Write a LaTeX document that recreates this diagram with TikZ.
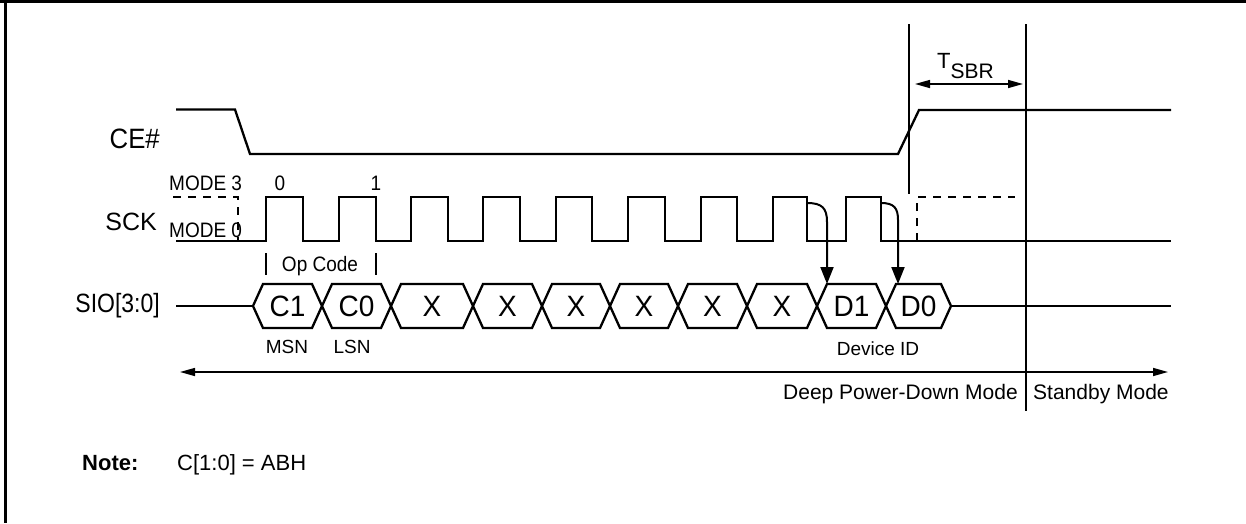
\documentclass[tikz,border=0pt]{standalone}
\usepackage{fontspec}
\setmainfont{Liberation Sans}
\usetikzlibrary{arrows.meta}
\newcommand{\tallish}[1]{\scalebox{1}[1.1]{#1}}
\begin{document}
\begin{tikzpicture}[x=1pt,y=-1pt,
  sig/.style={line width=2.3pt, line join=miter},
  dashsig/.style={line width=2.1pt, dash pattern=on 8pt off 7pt},
  thinline/.style={line width=1.8pt},
  lbl/.style={inner sep=0pt, font=\fontsize{19}{19}\selectfont},
  midlbl/.style={inner sep=0pt, font=\fontsize{21}{21}\selectfont},
  big/.style={inner sep=0pt, font=\fontsize{25}{25}\selectfont},
  hexlbl/.style={inner sep=0pt, font=\fontsize{28}{28}\selectfont},
  dimarrow/.style={line width=1.5pt, {Triangle[length=15pt,width=8pt]}-{Triangle[length=15pt,width=8pt]}},
  samparrow/.style={line width=2pt, -{Triangle[length=17pt,width=13pt]}}
]
\useasboundingbox (0,0) rectangle (1246,523);
% frame (top and left only)
\draw[line width=3pt] (0,1.5) -- (1246,1.5);
\draw[line width=2.6pt] (5.5,0) -- (5.5,523);

% CE#
\draw[sig] (176,109.5) -- (235,109.5) -- (250,154) -- (898,154) -- (919,110) -- (1171,110);
\node[big, anchor=base east] (ce) at (160,148) {\scalebox{1.03}[1.12]{CE\#}};

% SCK
\draw[sig] (176,241) -- (266,241) -- (266,197) -- (303,197) -- (303,241)
  -- (339,241) -- (339,197) -- (376,197) -- (376,241)
  -- (411,241) -- (411,197) -- (448,197) -- (448,241)
  -- (483,241) -- (483,197) -- (520,197) -- (520,241)
  -- (556,241) -- (556,197) -- (592,197) -- (592,241)
  -- (628,241) -- (628,197) -- (665,197) -- (665,241)
  -- (701,241) -- (701,197) -- (737,197) -- (737,241)
  -- (773,241) -- (773,197) -- (807,197) -- (807,241)
  -- (846,241) -- (846,197) -- (881,197) -- (881,241) -- (1171,241);
\draw[dashsig] (173,197) -- (238,197) -- (238,241);
\draw[dashsig] (917,241) -- (917,197) -- (1015,197);
\node[big, anchor=base east] (sck) at (157,230) {SCK};
\node[lbl, anchor=base west] (m3) at (169,190) {\tallish{MODE 3}};
\node[lbl, anchor=base west] (m0) at (169,237) {\tallish{MODE 0}};
\node[lbl, anchor=base] (n0) at (280,190) {\tallish{0}};
\node[lbl, anchor=base] (n1) at (376,190) {\tallish{1}};

% Op Code
\draw[line width=2pt] (266,253) -- (266,275);
\draw[line width=2pt] (376,253) -- (376,275);
\node[lbl, anchor=base] (op) at (320,271) {\tallish{Op Code}};

% SIO
\node[inner sep=0pt, font=\fontsize{23}{23}\selectfont, anchor=east] (sio) at (160,306) {\scalebox{1}[1.15]{SIO[3:0]}};
\draw[sig] (176,306) -- (253,306);
\draw[sig] (951,306) -- (1171,306);
\foreach \a/\b/\t [count=\i] in {253/322/C1, 322/391/C0, 391/473/X, 473/542/X, 542/610/X, 610/678/X, 678/747/X, 747/817/X, 817/886/D1, 886/951/D0} {
  \draw[sig] (\a,306) -- (\a+10,284) -- (\b-10,284) -- (\b,306) -- (\b-10,328) -- (\a+10,328) -- cycle;
  \node[hexlbl] (h\i) at ({(\a+\b)/2},306) {\scalebox{1}[1.05]{\t}};
}
\node[lbl, anchor=base] (msn) at (287,353) {MSN};
\node[lbl, anchor=base] (lsn) at (352,353) {LSN};
\node[lbl, anchor=base] (dev) at (878,355) {Device ID};

% sampling arrows
\draw[samparrow] (807,203) .. controls (822,203) and (827,208) .. (827,222) -- (827,284);
\draw[samparrow] (881,203) .. controls (894,203) and (898,208) .. (898,220) -- (898,284);

% vertical markers
\draw[thinline] (909,24) -- (909,194);
\draw[thinline] (1026,24) -- (1026,411);

% T_SBR
\coordinate (tl) at (915,84);
\coordinate (tr) at (1023,84);
\draw[dimarrow] (tl) -- (tr);
\node[inner sep=0pt, anchor=base west, font=\fontsize{22}{22}\selectfont] (tsbr) at (937,68) {T\raisebox{-10pt}{\fontsize{21}{21}\selectfont SBR}};

% mode arrow
\coordinate (ml) at (180,372);
\coordinate (mr) at (1168,372);
\draw[dimarrow] (ml) -- (mr);
\node[midlbl, anchor=base east] (dpd) at (1018,399) {Deep Power-Down Mode};
\node[midlbl, anchor=base west] (stb) at (1033,399) {Standby Mode};

% note
\node[inner sep=0pt, anchor=base west, font=\fontsize{22}{22}\selectfont\bfseries] (note) at (82,470) {Note:};
\node[inner sep=0pt, anchor=base west, font=\fontsize{22}{22}\selectfont] (notet) at (177,470) {C[1:0] = ABH};
\end{tikzpicture}
\end{document}
